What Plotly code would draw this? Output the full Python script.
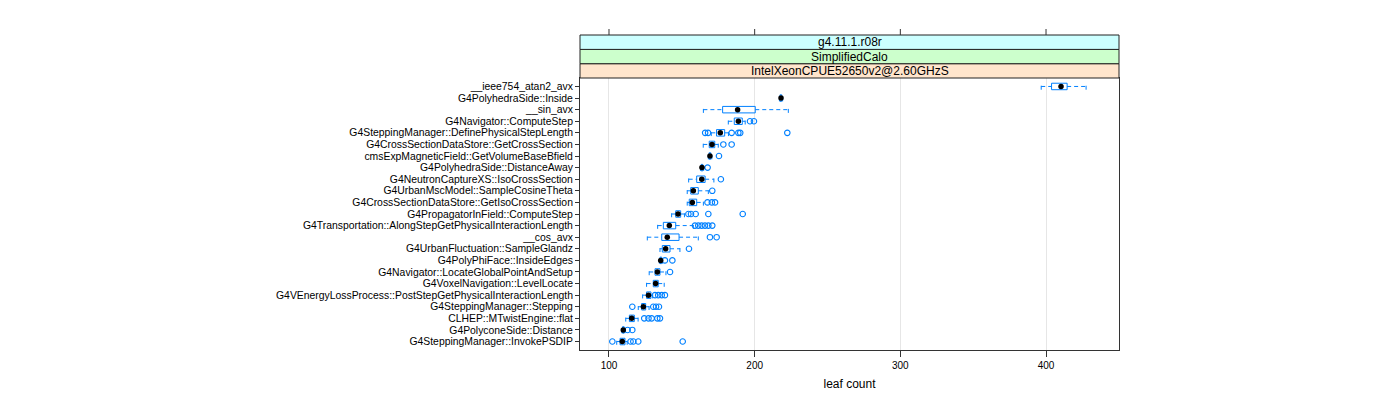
import plotly.graph_objects as go

names = [
    "__ieee754_atan2_avx",
    "G4PolyhedraSide::Inside",
    "__sin_avx",
    "G4Navigator::ComputeStep",
    "G4SteppingManager::DefinePhysicalStepLength",
    "G4CrossSectionDataStore::GetCrossSection",
    "cmsExpMagneticField::GetVolumeBaseBfield",
    "G4PolyhedraSide::DistanceAway",
    "G4NeutronCaptureXS::IsoCrossSection",
    "G4UrbanMscModel::SampleCosineTheta",
    "G4CrossSectionDataStore::GetIsoCrossSection",
    "G4PropagatorInField::ComputeStep",
    "G4Transportation::AlongStepGetPhysicalInteractionLength",
    "__cos_avx",
    "G4UrbanFluctuation::SampleGlandz",
    "G4PolyPhiFace::InsideEdges",
    "G4Navigator::LocateGlobalPointAndSetup",
    "G4VoxelNavigation::LevelLocate",
    "G4VEnergyLossProcess::PostStepGetPhysicalInteractionLength",
    "G4SteppingManager::Stepping",
    "CLHEP::MTwistEngine::flat",
    "G4PolyconeSide::Distance",
    "G4SteppingManager::InvokePSDIP",
]
q1 = [403.8, 217.4, 178.0, 186.0, 173.8, 168.8, 168.7, 163.3, 160.2, 156.1, 155.1, 145.8,
      137.3, 136.2, 136.6, 135.0, 131.6, 130.4, 125.8, 122.4, 114.0, 109.3, 107.6]
median = [410.3, 218.1, 188.3, 188.8, 176.4, 170.7, 169.3, 163.8, 163.7, 157.9, 157.2, 147.4,
          141.4, 140.0, 138.9, 135.5, 133.2, 132.0, 127.1, 123.6, 115.6, 109.8, 109.1]
q3 = [414.5, 218.6, 200.4, 191.5, 179.4, 172.6, 169.9, 164.4, 166.0, 161.3, 160.2, 149.2,
      145.8, 148.1, 141.9, 136.2, 135.0, 133.8, 128.8, 125.2, 117.4, 110.4, 111.0]
lower = [396.7, 217.0, 164.8, 181.9, 170.2, 164.7, 168.2, 162.8, 154.7, 153.7, 153.7, 143.0,
         133.4, 126.3, 135.0, 134.6, 127.6, 125.8, 123.1, 120.1, 111.5, 108.8, 105.3]
upper = [427.5, 219.2, 223.1, 193.5, 182.0, 175.0, 170.6, 165.0, 172.0, 168.2, 164.8, 151.8,
         157.9, 161.3, 148.7, 136.8, 139.1, 137.9, 130.0, 127.5, 120.0, 111.0, 112.5]
outliers = [
    [],
    [],
    [],
    [196.8, 199.5],
    [166.0, 168.0, 184.2, 188.8, 190.1, 222.4],
    [178.5, 184.2],
    [175.5],
    [167.7],
    [176.8],
    [170.9],
    [167.6, 170.6, 172.8],
    [154.5, 156.3, 159.5, 168.2, 191.8],
    [159.0, 161.3, 163.6, 165.9, 168.2, 170.9],
    [169.3, 173.9],
    [154.9],
    [138.4, 143.5],
    [141.9],
    [],
    [131.6, 133.8, 136.2, 138.4],
    [116.0, 130.4, 132.3, 134.3],
    [124.2, 127.1, 129.3, 133.2, 135.0],
    [112.8, 116.0],
    [102.3, 114.8, 116.7, 120.1, 150.6],
]
x_ticks = [100, 200, 300, 400]
strip_labels = ["IntelXeonCPUE52650v2@2.60GHzS", "SimplifiedCalo", "g4.11.1.r08r"]
strip_colors = ["#ffe5cc", "#ccffcc", "#ccffff"]

BLUE = "#0080ff"
FONT = "Liberation Sans, Arial, Helvetica, sans-serif"
n = len(names)
ypos = [n - 1 - i for i in range(n)]
H = 0.28

box_x, box_y = [], []
wh_x, wh_y = [], []
out_x, out_y = [], []
for i in range(n):
    y = ypos[i]
    box_x += [q1[i], q3[i], q3[i], q1[i], q1[i], None]
    box_y += [y - H, y - H, y + H, y + H, y - H, None]
    wh_x += [lower[i], q1[i], None, q3[i], upper[i], None,
             lower[i], lower[i], None, upper[i], upper[i], None]
    wh_y += [y, y, None, y, y, None, y - H, y + H, None, y - H, y + H, None]
    for v in outliers[i]:
        out_x.append(v)
        out_y.append(y)

fig = go.Figure()
fig.add_trace(go.Scatter(x=wh_x, y=wh_y, mode="lines",
                         line=dict(color=BLUE, width=1, dash="4px,3px"), hoverinfo="skip"))
fig.add_trace(go.Scatter(x=box_x, y=box_y, mode="lines",
                         line=dict(color=BLUE, width=1), hoverinfo="skip"))
fig.add_trace(go.Scatter(x=out_x, y=out_y, mode="markers",
                         marker=dict(symbol="circle-open", size=5.5, color=BLUE, line=dict(width=1.1))))
fig.add_trace(go.Scatter(x=median, y=ypos, mode="markers",
                         marker=dict(symbol="circle", size=5.5, color="black")))

shapes = []
edges = [0, 14.3, 28.6, 43]
for k in range(3):
    shapes.append(dict(type="rect", xref="paper", yref="paper", x0=0, x1=1,
                       ysizemode="pixel", yanchor=1, y0=edges[k], y1=edges[k + 1],
                       fillcolor=strip_colors[k], line=dict(color="#222", width=1), layer="above"))
for t in x_ticks:
    shapes.append(dict(type="line", xref="x", yref="paper", x0=t, x1=t,
                       ysizemode="pixel", yanchor=1, y0=43, y1=49,
                       line=dict(color="#333", width=1)))

annotations = []
for k in range(3):
    annotations.append(dict(text=strip_labels[k], xref="paper", yref="paper", x=0.5, y=1,
                            yanchor="middle", xanchor="center", showarrow=False,
                            yshift=(edges[k] + edges[k + 1]) / 2,
                            font=dict(family=FONT, size=12, color="black")))

fig.update_layout(
    width=1400, height=400,
    margin=dict(l=572, r=289, t=70, b=58),
    paper_bgcolor="white", plot_bgcolor="white",
    showlegend=False,
    font=dict(family=FONT, size=10, color="black"),
    shapes=shapes, annotations=annotations,
    xaxis=dict(range=[80.1, 450.1], tickvals=x_ticks, ticks="outside", ticklen=6,
               tickcolor="#333", showgrid=True, gridcolor="#e6e6e6", gridwidth=1,
               showline=True, linecolor="#333", linewidth=1, mirror=True, zeroline=False,
               tickfont=dict(size=10),
               title=dict(text="leaf count", font=dict(size=12), standoff=9)),
    yaxis=dict(range=[-0.73, n - 1 + 0.73], tickvals=ypos, ticktext=names,
               ticks="outside", ticklen=4, tickcolor="#333",
               showgrid=False, showline=True, linecolor="#333", linewidth=1,
               mirror=True, zeroline=False, tickfont=dict(size=10.4)),
)

fig.write_html("out.html")
